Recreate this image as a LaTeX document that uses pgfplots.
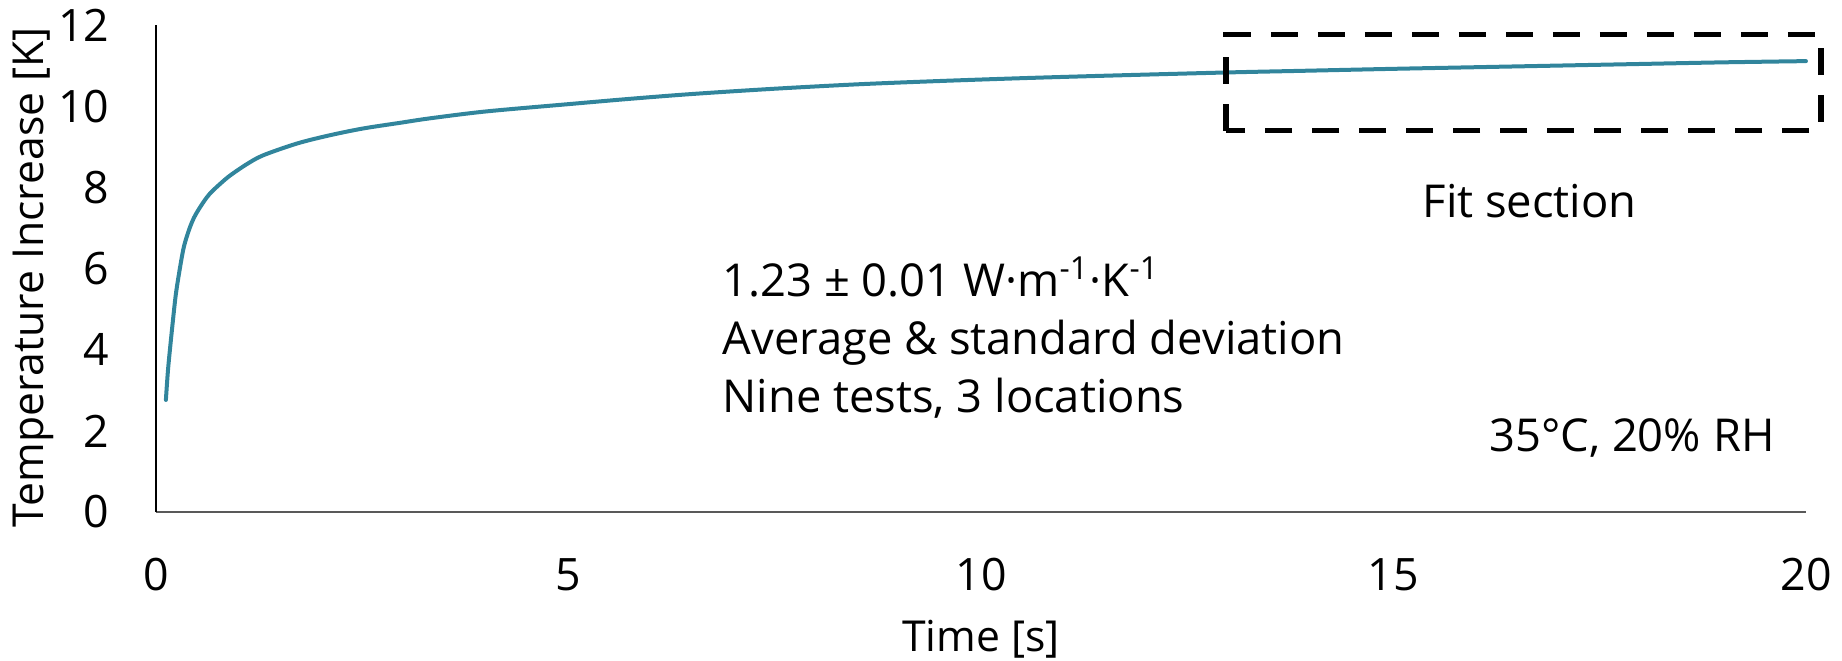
\documentclass[border=0pt]{standalone}
\usepackage{pgfplots}
\pgfplotsset{compat=1.18}
\usepackage{fontspec}
\setmainfont{Open Sans}
\definecolor{curve}{RGB}{49,133,156}
\pgfplotstableread{
t T
0.12 2.76
0.149 3.58
0.21 4.81
0.25 5.5
0.33 6.46
0.40 6.95
0.46 7.25
0.513 7.44
0.58 7.65
0.655 7.85
0.78 8.09
0.897 8.29
1.10 8.57
1.30 8.79
1.71 9.08
2.10 9.28
2.51 9.45
2.96 9.59
3.32 9.70
4.0 9.87
5.0 10.05
5.74 10.18
6.5 10.30
7.5 10.43
8.52 10.54
9.5 10.62
10.5 10.69
11.5 10.75
12.97 10.83
13.87 10.87
15 10.92
16 10.96
17 11.00
18 11.04
19 11.08
20 11.11
}\curvedata
\begin{document}
\begin{tikzpicture}
\useasboundingbox (-46.8pt,-44.7pt) rectangle (505.8pt,153.6pt);
\begin{axis}[at={(0,0)},anchor=south west,
  width=495pt,height=146.1pt,scale only axis,
  xmin=0,xmax=20,ymin=0,ymax=12,
  axis x line=bottom, axis y line=left, axis line style={-},
  x axis line style={black!65,line width=0.55pt},
  y axis line style={black,line width=0.4pt},
  xtick={0,5,10,15,20}, ytick={0,2,4,6,8,10,12},
  major tick length=0pt,
  tick label style={font=\fontsize{13.4}{16}\selectfont},
  /pgf/number format/assume math mode=true,
  xticklabel style={anchor=center,yshift=-18.9pt},
  yticklabel style={anchor=east,inner xsep=0pt,xshift=-13.8pt},
  xlabel={Time [s]}, ylabel={Temperature Increase [K]},
  label style={font=\fontsize{12.8}{15}\selectfont},
  xlabel style={at={([yshift=-38.1pt]axis description cs:0.5,0)},anchor=center},
  ylabel style={at={([xshift=-36.9pt,yshift=-2.6pt]axis description cs:0,0.5)},anchor=center},
  clip=false]
\addplot[curve,line width=1.2pt,no markers,smooth,tension=0.5,line cap=round] table[x=t,y=T]{\curvedata};
\draw[black,line width=1.7pt,dash pattern=on 8pt off 6.1pt] (axis cs:12.97,9.40) rectangle (axis cs:20.18,11.77);
\begin{scope}[every node/.style={inner sep=0pt,font=\fontsize{13.6}{16}\selectfont}]
\node[anchor=base west] at (axis cs:6.86,5.30) {1.23 ± 0.01 W·m\textsuperscript{-1}·K\textsuperscript{-1}};
\node[anchor=base west] at (axis cs:6.86,3.87) {Average \& standard deviation};
\node[anchor=base west] at (axis cs:6.86,2.44) {Nine tests, 3 locations};
\node[anchor=base] at (axis cs:16.65,7.245) {Fit section};
\node[anchor=base] at (axis cs:17.89,1.48) {35°C, 20\% RH};
\end{scope}
\end{axis}
\end{tikzpicture}
\end{document}
